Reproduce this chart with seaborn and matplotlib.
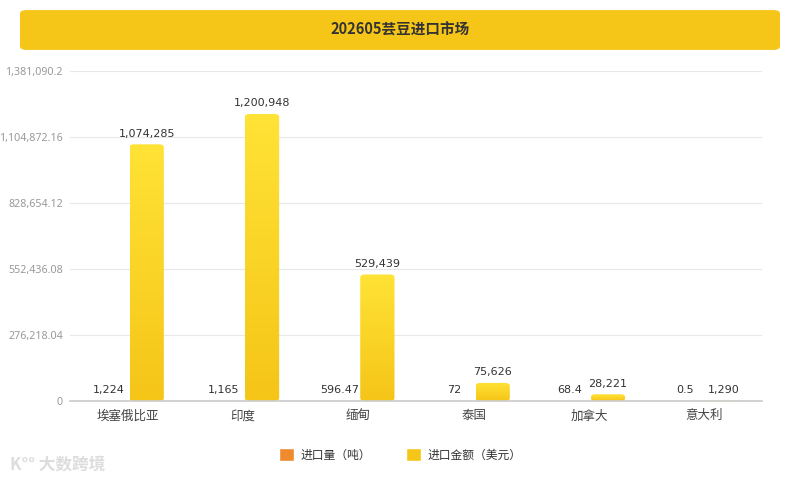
import numpy as np
import pandas as pd
import matplotlib
matplotlib.use('Agg')
import matplotlib.pyplot as plt
import seaborn as sns
from matplotlib.patches import FancyBboxPatch, Patch

countries = ['埃塞俄比亚', '印度', '缅甸', '泰国', '加拿大', '意大利']
volume = [1224, 1165, 596.47, 72, 68.4, 0.5]
amount = [1074285, 1200948, 529439, 75626, 28221, 1290]
series = ['进口量（吨）', '进口金额（美元）']
yticks = [0, 276218.04, 552436.08, 828654.12, 1104872.16, 1381090.2]
ytick_labels = ['0', '276,218.04', '552,436.08', '828,654.12', '1,104,872.16', '1,381,090.2']
title = '202605芸豆进口市场'

orange = '#F08A2E'
yellow = '#F5C518'

df = pd.DataFrame({
    'country': countries * 2,
    'series': [series[0]] * 6 + [series[1]] * 6,
    'value': volume + amount,
})

sns.set_theme(style='white')
plt.rcParams['font.family'] = ['Noto Sans CJK SC', 'DejaVu Sans']

fig = plt.figure(figsize=(8, 4.8), dpi=100)
ax = fig.add_axes([0.0875, 0.1646, 0.865, 0.6875])

sns.barplot(data=df, x='country', y='value', hue='series', palette=[orange, yellow],
            width=0.66, gap=0.1, errorbar=None, legend=False, ax=ax)

ax.set_ylim(0, yticks[-1])
ax.set_xlim(-0.5, len(countries) - 0.5)
ax.set_yticks(yticks)
ax.set_yticklabels(ytick_labels, color='#999999', fontsize=7.7, family=['Noto Sans', 'DejaVu Sans'])
ax.tick_params(axis='x', colors='#444444', labelsize=9, length=0, pad=6)
ax.tick_params(axis='y', length=0, pad=5)
ax.set_xlabel('')
ax.set_ylabel('')
ax.grid(axis='y', color='#e8e8e8', linewidth=0.8)
ax.set_axisbelow(True)
for s in ['top', 'right', 'left']:
    ax.spines[s].set_visible(False)
ax.spines['bottom'].set_color('#cccccc')

# gradient on yellow bars with rounded tops
grad = np.linspace(0, 1, 256).reshape(-1, 1)
cmap = matplotlib.colors.LinearSegmentedColormap.from_list('y', [yellow, '#FFE336'])
bars = ax.patches
n = len(countries)
for i, p in enumerate(bars[n:2 * n]):
    x0, w, h = p.get_x(), p.get_width(), p.get_height()
    p.set_visible(False)
    if h <= 0:
        continue
    rnd = FancyBboxPatch((x0, 0), w, h, boxstyle='round,pad=0,rounding_size=0.04',
                         mutation_aspect=yticks[-1] / 4.0 * 0.9, transform=ax.transData,
                         facecolor='none', edgecolor='none')
    ax.add_patch(rnd)
    im = ax.imshow(grad, extent=[x0, x0 + w, 0, h], origin='lower', cmap=cmap,
                   aspect='auto', zorder=2)
    im.set_clip_path(rnd)

# data labels
for i in range(n):
    for j, vals in enumerate([volume, amount]):
        p = bars[j * n + i]
        v = vals[i]
        ax.annotate(f'{v:,}', (p.get_x() + p.get_width() / 2, v),
                    xytext=(0, 4), textcoords='offset points', ha='center', va='bottom',
                    fontsize=8, color='#333333', family=['DejaVu Sans'])

ax.set_xlim(-0.5, len(countries) - 0.5)
ax.set_ylim(0, yticks[-1])

# title banner
banner = FancyBboxPatch((0.025, 0.896), 0.95, 0.083, boxstyle='round,pad=0,rounding_size=0.008',
                        transform=fig.transFigure, facecolor=yellow, edgecolor='none')
fig.patches.append(banner)
fig.text(0.5, 0.9375, title, ha='center', va='center', fontsize=10.5,
         fontweight='bold', color='#333333')

# legend
handles = [Patch(facecolor=orange, label=series[0]), Patch(facecolor=yellow, label=series[1])]
fig.legend(handles=handles, loc='center', bbox_to_anchor=(0.5, 0.052), ncol=2, frameon=False,
           fontsize=8.5, handlelength=1.3, handleheight=1.3, handletextpad=0.5,
           columnspacing=3.0, labelcolor='#333333')

# watermark
fig.text(0.012, 0.033, 'K°° 大数跨境', fontsize=12, color='#dddddd', fontweight='bold',
         ha='left', va='center')

fig.savefig('out.png', dpi=100)
